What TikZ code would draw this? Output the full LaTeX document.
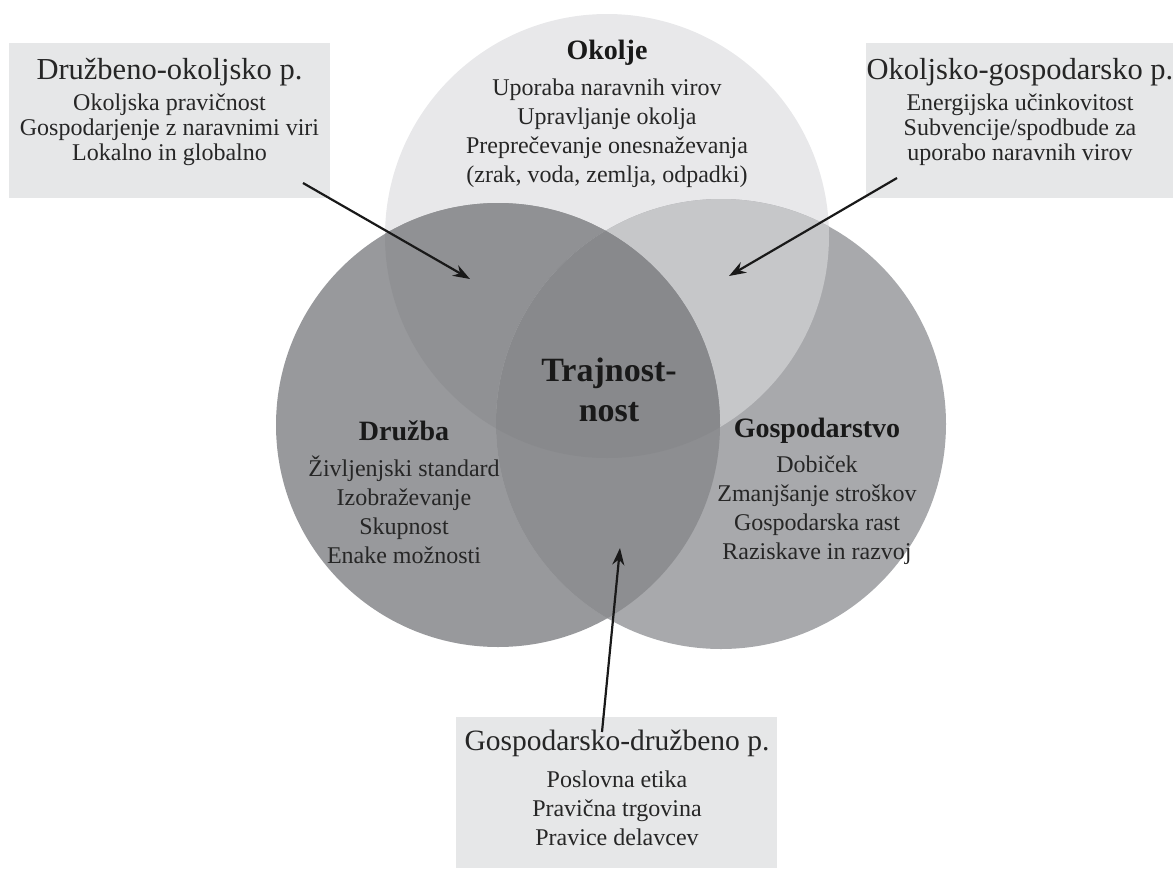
\documentclass[tikz,border=0pt]{standalone}
\usepackage{fontspec}
\setmainfont{Liberation Serif}
\usepackage{tikz}
\usetikzlibrary{arrows.meta}

\definecolor{envgray}{HTML}{E8E8EA}
\definecolor{socgray}{HTML}{98999C}
\definecolor{ecogray}{HTML}{A8A9AC}
\definecolor{envsoc}{HTML}{909194}
\definecolor{enveco}{HTML}{C6C7C9}
\definecolor{soceco}{HTML}{8D8E91}
\definecolor{allthree}{HTML}{88898C}
\definecolor{boxgray}{HTML}{E6E7E8}

\begin{document}
\begin{tikzpicture}[x=1pt, y=-1pt,
        infobox/.style={fill=boxgray, inner sep=0pt},
        boxtitle/.style={font=\fontsize{30.5}{34}\selectfont, text=black!85},
        itemlist/.style={align=center, font=\fontsize{24}{25}\selectfont, text=black!85},
        circlist/.style={align=center, font=\fontsize{24}{29}\selectfont, text=black!85},
        circtitle/.style={font=\fontsize{28}{32}\selectfont\bfseries, text=black!90},
        pointer/.style={-{Stealth[length=17pt, width=12pt]}, line width=2.2pt, black!90}]
        \useasboundingbox (0,0) rectangle (1173,868);

        % the three circles
        \coordinate (envc) at (607,236);
        \coordinate (socc) at (498,425);
        \coordinate (ecoc) at (721,424);
        \fill[envgray] (envc) circle[radius=222pt];
        \fill[socgray] (socc) circle[radius=222pt];
        \fill[ecogray] (ecoc) circle[radius=225pt];

        % overlaps
        \begin{scope}
            \clip (envc) circle[radius=222pt];
            \fill[envsoc] (socc) circle[radius=222pt];
            \fill[enveco] (ecoc) circle[radius=225pt];
        \end{scope}
        \begin{scope}
            \clip (socc) circle[radius=222pt];
            \fill[soceco] (ecoc) circle[radius=225pt];
            \clip (ecoc) circle[radius=225pt];
            \fill[allthree] (envc) circle[radius=222pt];
        \end{scope}

        % texts in the circles
        \node[circtitle] (envtitle) at (607,53) {Okolje};
        \node[circlist] (envitems) at (607,133) {Uporaba naravnih virov\\Upravljanje okolja\\Preprečevanje onesnaževanja\\(zrak, voda, zemlja, odpadki)};

        \node[font=\fontsize{34}{40}\selectfont\bfseries, align=center, text=black!90] (core) at (609,390) {Trajnost-\\nost};

        \node[circtitle] (soctitle) at (404,431) {Družba};
        \node[circlist] (socitems) at (404,510) {Življenjski standard\\Izobraževanje\\Skupnost\\Enake možnosti};

        \node[circtitle] (ecotitle) at (817,431) {Gospodarstvo};
        \node[circlist] (ecoitems) at (817,510) {Dobiček\\Zmanjšanje stroškov\\Gospodarska rast\\Raziskave in razvoj};

        % boxes
        \node[infobox, minimum width=321pt, minimum height=155pt] (socenvbox) at (169.5,120.5) {};
        \node[boxtitle] (socenvtitle) at (169.5,72) {Družbeno-okoljsko p.};
        \node[itemlist] (socenvitems) at (169.5,130) {Okoljska pravičnost\\Gospodarjenje z naravnimi viri\\Lokalno in globalno};

        \node[infobox, minimum width=307pt, minimum height=155pt] (envecobox) at (1019.5,120.5) {};
        \node[boxtitle] (envecotitle) at (1020,72) {Okoljsko-gospodarsko p.};
        \node[itemlist] (envecoitems) at (1020,130) {Energijska učinkovitost\\Subvencije/spodbude za\\uporabo naravnih virov};

        \node[infobox, minimum width=321pt, minimum height=151pt] (ecosocbox) at (616.5,792.5) {};
        \node[boxtitle, font=\fontsize{29.5}{34}\selectfont] (ecosoctitle) at (617,743) {Gospodarsko-družbeno p.};
        \node[circlist] (ecosocitems) at (617,808) {Poslovna etika\\Pravična trgovina\\Pravice delavcev};

        % arrows
        \coordinate (socenvfrom) at (303,183);
        \coordinate (socenvto) at (470,279);
        \coordinate (envecofrom) at (897,178);
        \coordinate (envecoto) at (729,276);
        \coordinate (ecosocfrom) at (602,732);
        \coordinate (ecosocto) at (620,548);
        \draw[pointer] (socenvfrom) -- (socenvto);
        \draw[pointer] (envecofrom) -- (envecoto);
        \draw[pointer] (ecosocfrom) -- (ecosocto);
\end{tikzpicture}
\end{document}
